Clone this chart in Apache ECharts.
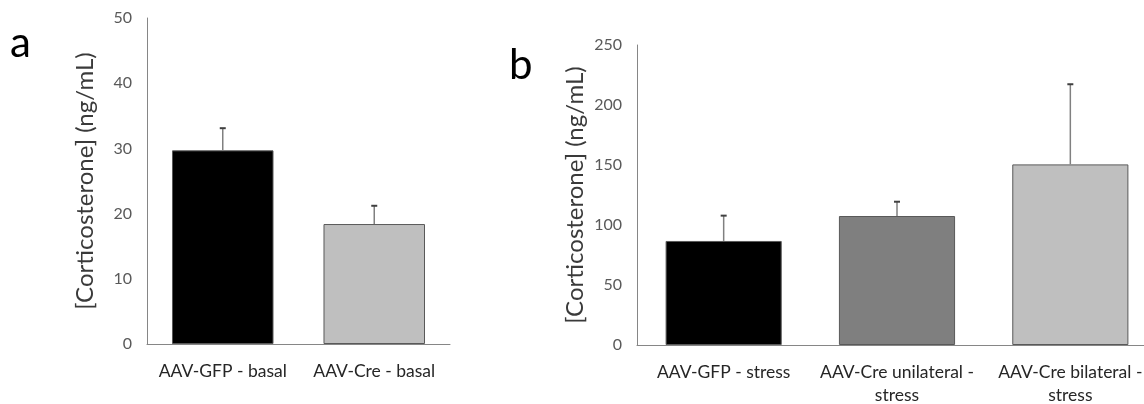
<!DOCTYPE html>
<html>
<head>
<meta charset="utf-8">
<script src="https://cdn.jsdelivr.net/npm/echarts@6/dist/echarts.min.js"></script>
<style>
  html, body { margin: 0; padding: 0; background: #ffffff; }
  #chart { width: 1144px; height: 404px; }
</style>
</head>
<body>
<div id="chart"></div>
<script>
// Panel a: basal corticosterone
const categoriesA = ['AAV-GFP - basal', 'AAV-Cre - basal'];
const meansA = [29.7, 18.4];
const upperA = [33.1, 21.2];   // mean + SEM
const ticksA = { min: 0, max: 50, interval: 10 };

// Panel b: corticosterone after stress
const categoriesB = ['AAV-GFP - stress', 'AAV-Cre unilateral -\nstress', 'AAV-Cre bilateral -\nstress'];
const meansB = [86.7, 107.5, 150.5];
const upperB = [107.8, 119.4, 217.3];   // mean + SEM
const ticksB = { min: 0, max: 250, interval: 50 };

const yTitle = '[Corticosterone] (ng/mL)';

// Fill colours per bar
const fillA = ['#000000', '#bfbfbf'];
const fillB = ['#000000', '#7f7f7f', '#bfbfbf'];

const FONT = 'Lato, "Open Sans", sans-serif';

function barData(values, fills) {
  return values.map((v, i) => ({ value: v, itemStyle: { color: fills[i] } }));
}

function errData(means, uppers) {
  return means.map((m, i) => [i, m, uppers[i]]);
}

// Upper-only error whisker with a short cap
function renderErr(params, api) {
  const x = api.value(0);
  const base = api.coord([x, api.value(1)]);
  const top = api.coord([x, api.value(2)]);
  const half = 3;
  return {
    type: 'group',
    children: [
      { type: 'line', shape: { x1: base[0], y1: base[1], x2: top[0], y2: top[1] },
        style: { stroke: '#808080', lineWidth: 1.5 } },
      { type: 'line', shape: { x1: top[0] - half, y1: top[1], x2: top[0] + half, y2: top[1] },
        style: { stroke: '#404040', lineWidth: 2 } }
    ]
  };
}

function yAxis(gridIndex, ticks) {
  return {
    type: 'value', gridIndex,
    min: ticks.min, max: ticks.max, interval: ticks.interval,
    name: yTitle, nameLocation: 'middle', nameGap: 50,
    nameTextStyle: { fontFamily: FONT, fontSize: 24, color: '#3a3a3a' },
    axisLine: { show: true, lineStyle: { color: '#868686', width: 1 } },
    axisTick: { show: false },
    splitLine: { show: false },
    axisLabel: { fontFamily: FONT, fontSize: 16, color: '#595959', margin: 15 }
  };
}

function xAxis(gridIndex, cats) {
  return {
    type: 'category', gridIndex, data: cats,
    axisLine: { show: true, lineStyle: { color: '#868686', width: 1 } },
    axisTick: { show: false },
    axisLabel: { interval: 0, fontFamily: FONT, fontSize: 17.5, color: '#262626', margin: 16, lineHeight: 23 }
  };
}

const chart = echarts.init(document.getElementById('chart'), null, { renderer: 'canvas' });
chart.setOption({
  animation: false,
  backgroundColor: '#ffffff',
  graphic: [
    { type: 'text', left: 10, top: 22, style: { text: 'a', font: '42px ' + FONT, fill: '#000000' } },
    { type: 'text', left: 509, top: 44, style: { text: 'b', font: '42px ' + FONT, fill: '#000000' } }
  ],
  grid: [
    { left: 147, top: 18, width: 303, height: 326, outerBoundsMode: 'none' },
    { left: 637, top: 45, width: 520, height: 300, outerBoundsMode: 'none' }
  ],
  xAxis: [xAxis(0, categoriesA), xAxis(1, categoriesB)],
  yAxis: [yAxis(0, ticksA), yAxis(1, ticksB)],
  series: [
    { type: 'bar', xAxisIndex: 0, yAxisIndex: 0, barWidth: '67%',
      itemStyle: { borderColor: '#595959', borderWidth: 1 },
      data: barData(meansA, fillA) },
    { type: 'custom', xAxisIndex: 0, yAxisIndex: 0, renderItem: renderErr, z: 3,
      data: errData(meansA, upperA) },
    { type: 'bar', xAxisIndex: 1, yAxisIndex: 1, barWidth: '67%',
      itemStyle: { borderColor: '#595959', borderWidth: 1 },
      data: barData(meansB, fillB) },
    { type: 'custom', xAxisIndex: 1, yAxisIndex: 1, renderItem: renderErr, z: 3,
      data: errData(meansB, upperB) }
  ]
});
</script>
</body>
</html>
